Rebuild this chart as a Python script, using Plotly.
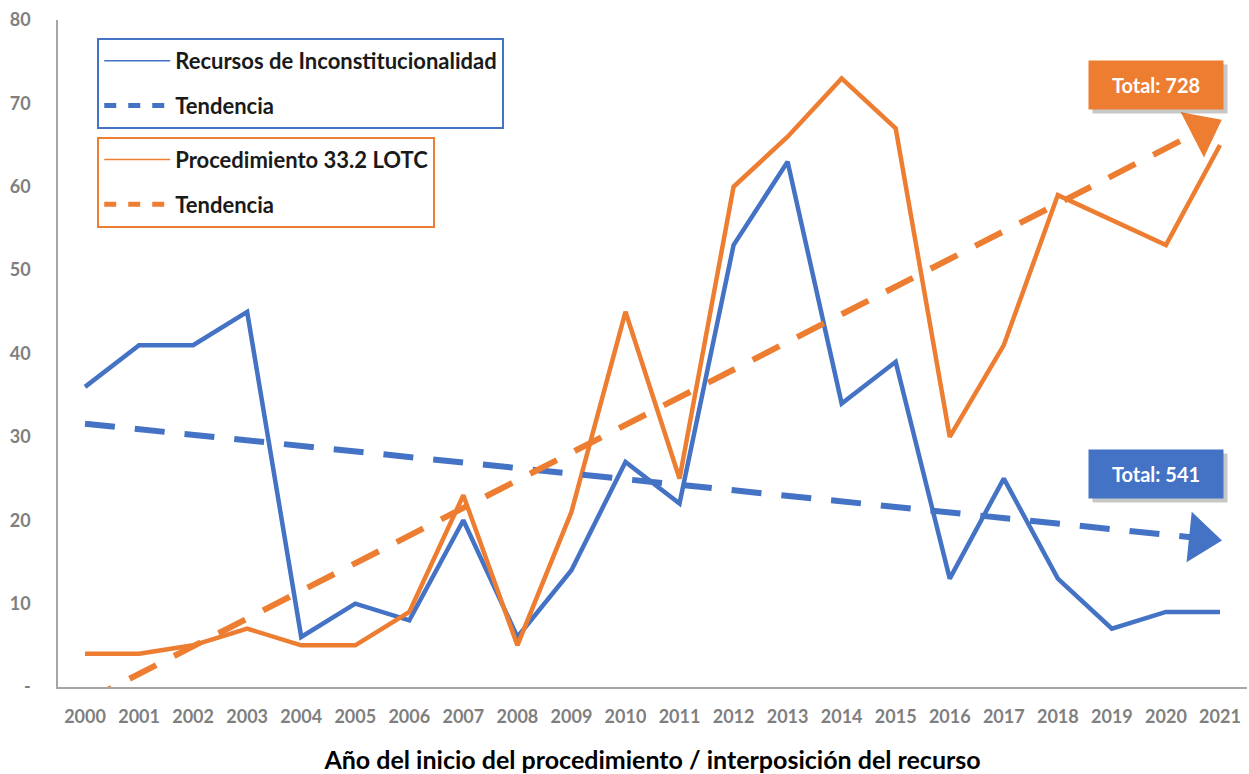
import numpy as np
import plotly.graph_objects as go

FONT = "Lato, Open Sans, sans-serif"
BLUE = "#4472C4"
ORANGE = "#ED7D31"
GREY = "#7F7F7F"

years = list(range(2000, 2022))
recursos = [36, 41, 41, 45, 6, 10, 8, 20, 6, 14, 27, 22, 53, 63, 34, 39, 13, 25, 13, 7, 9, 9]
procedimiento = [4, 4, 5, 7, 5, 5, 9, 23, 5, 21, 45, 25, 60, 66, 73, 67, 30, 41, 59, 56, 53, 65]
y_ticks = [0, 10, 20, 30, 40, 50, 60, 70, 80]
y_tick_text = ["-", "10", "20", "30", "40", "50", "60", "70", "80"]


def trend(values):
    # linear trendline, as in the spreadsheet
    slope, intercept = np.polyfit(years, values, 1)
    return [slope * x + intercept for x in years]


fig = go.Figure()

for vals, color in [(recursos, BLUE), (procedimiento, ORANGE)]:
    fig.add_trace(go.Scatter(
        x=years, y=vals, mode="lines", showlegend=False,
        line=dict(color=color, width=4.5)
    ))

for vals, color in [(recursos, BLUE), (procedimiento, ORANGE)]:
    sizes = [0] * (len(years) - 1) + [44]
    fig.add_trace(go.Scatter(
        x=years, y=trend(vals), mode="lines+markers", showlegend=False,
        line=dict(color=color, width=6, dash="30px,20px"),
        marker=dict(symbol="triangle-up", angleref="previous", size=sizes, opacity=1,
                    color=color, standoff=20, line=dict(width=0)),
        cliponaxis=False
    ))

# legend entries (thin lines like the original)
legend_items = [
    ("Recursos de Inconstitucionalidad", BLUE, 1.5, "solid", "legend"),
    ("Tendencia", BLUE, 5, "12px,12px", "legend"),
    ("Procedimiento 33.2 LOTC", ORANGE, 1.5, "solid", "legend2"),
    ("Tendencia", ORANGE, 5, "12px,12px", "legend2"),
]
for i, (name, color, w, dash, lg) in enumerate(legend_items):
    fig.add_trace(go.Scatter(
        x=[None], y=[None], mode="lines", name=name, legend=lg,
        legendgroup=f"g{i}", line=dict(color=color, width=w, dash=dash)
    ))

legend_style = dict(
    bgcolor="white", borderwidth=2, xanchor="left", yanchor="top",
    font=dict(family=FONT, size=22, color="#1A1A1A", weight="bold"),
    tracegroupgap=13, itemwidth=66
)

fig.update_layout(
    width=1249, height=774,
    margin=dict(l=58, r=2, t=20, b=87),
    plot_bgcolor="white", paper_bgcolor="white",
    font=dict(family=FONT),
    legend=dict(x=0.033, y=0.973, bordercolor=BLUE, entrywidth=369, **legend_style),
    legend2=dict(x=0.033, y=0.825, bordercolor=ORANGE, entrywidth=359, **legend_style),
)

fig.update_xaxes(
    range=[1999.5, 2021.5], tickvals=years, showgrid=False, zeroline=False,
    showline=True, linecolor="#A6A6A6", linewidth=1.5, ticks="", automargin=False,
    tickfont=dict(family=FONT, size=18, color=GREY, weight="bold"),
    ticklabelstandoff=13,
    title=dict(text="Año del inicio del procedimiento / interposición del recurso",
               font=dict(family=FONT, size=25, color="black", weight="bold"), standoff=26)
)
fig.update_yaxes(
    range=[0, 80], tickvals=y_ticks, ticktext=y_tick_text, showgrid=False,
    zeroline=False, showline=True, linecolor="#A6A6A6", linewidth=1.5, ticks="",
    automargin=False,
    tickfont=dict(family=FONT, size=18, color=GREY, weight="bold"),
    ticklabelstandoff=22
)

# total boxes
for vals, color, yv in [(procedimiento, ORANGE, 72.2), (recursos, BLUE, 25.5)]:
    fig.add_annotation(
        xref="paper", x=0.9235, y=yv, xanchor="center", showarrow=False, text="",
        width=132, height=46, bgcolor="rgba(0,0,0,0.22)", xshift=4, yshift=-4
    )
    fig.add_annotation(
        xref="paper", x=0.9235, y=yv, xanchor="center", showarrow=False,
        text=f"Total: {sum(vals)}", width=132, height=46, bgcolor=color,
        font=dict(family=FONT, size=20, color="white", weight="bold")
    )

fig.write_html("out.html", config={"displayModeBar": False},
               post_script="document.body.style.margin = '0';")
